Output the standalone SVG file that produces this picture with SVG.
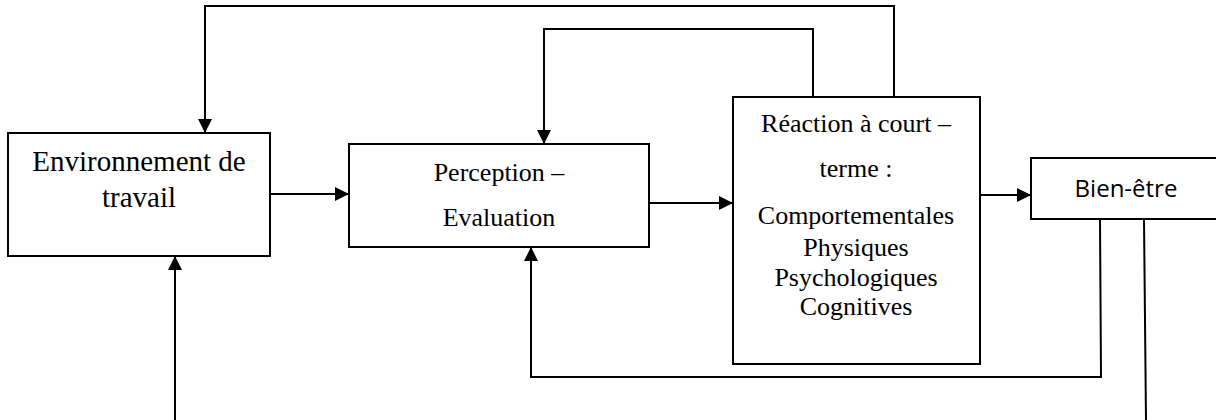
<svg xmlns="http://www.w3.org/2000/svg" width="1216" height="420" viewBox="0 0 1216 420">
<defs>
<marker id="arr" markerWidth="14" markerHeight="14" viewBox="0 0 14 14" refX="14" refY="7" orient="auto" markerUnits="userSpaceOnUse">
<path d="M0,0 L14,7 L0,14 Z" fill="#000"/>
</marker>
<style>
.box{fill:#fff;stroke:#000;stroke-width:2}
.ln{fill:none;stroke:#000;stroke-width:2}
.t{font-family:"Liberation Serif","Times New Roman",serif;fill:#000;text-anchor:middle}
.s{font-family:"Open Sans","Liberation Sans",sans-serif;fill:#000;text-anchor:middle}
</style>
</defs>
<rect width="1216" height="420" fill="#fff"/>
<g id="connectors">
<path class="ln" d="M894,97 V6 H205 V133" marker-end="url(#arr)"/>
<path class="ln" d="M813,97 V29 H544 V144" marker-end="url(#arr)"/>
<path class="ln" d="M270,194 H349" marker-end="url(#arr)"/>
<path class="ln" d="M649,203 H733" marker-end="url(#arr)"/>
<path class="ln" d="M980,195 H1031" marker-end="url(#arr)"/>
<path class="ln" d="M1100,219 L1101,377 H531 V247" marker-end="url(#arr)"/>
<path class="ln" d="M1144,219 L1146,420"/>
<path class="ln" d="M175,420 V256" marker-end="url(#arr)"/>
</g>
<g id="env">
<rect class="box" x="8" y="133" width="262" height="123"/>
<text class="t" x="139" y="171" font-size="29">Environnement de</text>
<text class="t" x="139" y="207" font-size="29">travail</text>
</g>
<g id="perception">
<rect class="box" x="349" y="144" width="300" height="103"/>
<text class="t" x="499" y="181" font-size="26">Perception –</text>
<text class="t" x="499" y="226" font-size="26">Evaluation</text>
</g>
<g id="reaction">
<rect class="box" x="733" y="97" width="247" height="267"/>
<text class="t" x="856" y="132" font-size="26">Réaction à court –</text>
<text class="t" x="856" y="177" font-size="26">terme :</text>
<text class="t" x="856" y="224" font-size="26">Comportementales</text>
<text class="t" x="856" y="256" font-size="26">Physiques</text>
<text class="t" x="856" y="286" font-size="26">Psychologiques</text>
<text class="t" x="856" y="315" font-size="26">Cognitives</text>
</g>
<g id="bienetre">
<rect class="box" x="1031" y="158" width="200" height="61"/>
<text class="s" x="1126" y="197" font-size="24">Bien-être</text>
</g>
</svg>
